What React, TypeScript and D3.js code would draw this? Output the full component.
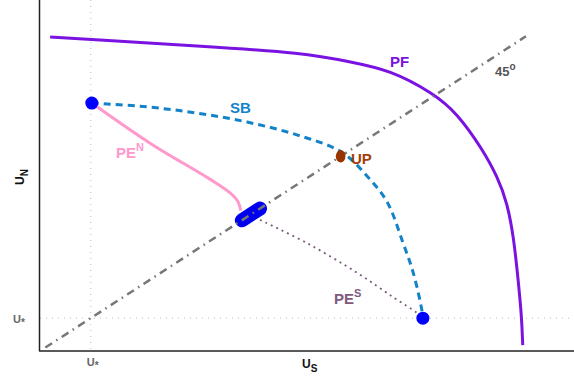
import React from 'react';
import * as d3 from 'd3';

const W = 574;
const H = 381;

// reference utility level U* (same on both axes)
const uStar = 0.95;

// Pareto frontier
const pfX = [0.19, 1.12, 3.0, 4.96, 5.81, 6.55, 7.36, 7.81, 8.28, 8.57, 8.75, 8.87, 8.96, 9.02, 9.04];
const pfY = [9.08, 8.99, 8.82, 8.62, 8.36, 8.13, 7.46, 6.88, 5.85, 5.03, 4.28, 3.3, 1.97, 0.98, 0.17];

// second-best frontier
const sbX = [0.97, 2.0, 2.94, 3.88, 4.81, 5.65, 6.14, 6.5, 6.8, 6.99, 7.15, 7.17];
const sbY = [7.17, 7.06, 6.88, 6.62, 6.25, 5.75, 5.03, 4.31, 3.12, 2.26, 1.19, 0.95];

// political equilibrium, North
const peNX = [0.97, 2.06, 3.18, 3.56, 3.71, 3.76];
const peNY = [7.17, 6.01, 4.97, 4.57, 4.31, 4.06];

// political equilibrium, South
const peSX = [4.12, 5.0, 5.94, 6.61, 7.06, 7.17];
const peSY = [3.79, 3.12, 2.26, 1.56, 1.1, 0.95];

// 45 degree line ends, cluster on the diagonal, utilitarian point
const diag = [0.1, 9.1];
const cluster = [3.78, 4.12];
const upPoint = 5.63;
const endPoints: [number, number][] = [[0.97, 7.17], [7.17, 0.95]];

const font = '"Liberation Sans", Arial, Helvetica, sans-serif';

export default function App() {
  const x = d3.scaleLinear().domain([0, 10]).range([40, 574]);
  const y = d3.scaleLinear().domain([0, 10.15]).range([351, 0]);

  const line = d3.line<[number, number]>()
    .x(d => x(d[0]))
    .y(d => y(d[1]));
  const curve = d3.line<[number, number]>()
    .x(d => x(d[0]))
    .y(d => y(d[1]))
    .curve(d3.curveCatmullRom.alpha(0.5));
  const smooth = d3.line<[number, number]>()
    .x(d => x(d[0]))
    .y(d => y(d[1]))
    .curve(d3.curveBasis);

  const zip = (a: number[], b: number[]) => a.map((v, i) => [v, b[i]] as [number, number]);

  return (
    <svg width={W} height={H} style={{ position: 'absolute', left: 0, top: 0, display: 'block' }}
      fontFamily={font}>
      <rect width={W} height={H} fill="#fff" />

      {/* U* guide lines */}
      <line x1={x(uStar)} x2={x(uStar)} y1={0} y2={y(0)} stroke="#bbb" strokeWidth={1} strokeDasharray="1,5" />
      <line x1={x(0)} x2={W} y1={y(uStar)} y2={y(uStar)} stroke="#bbb" strokeWidth={1} strokeDasharray="1,5" />

      {/* axes */}
      <line x1={x(0) - 0.5} x2={x(0) - 0.5} y1={0} y2={y(0)} stroke="#222" strokeWidth={1.5} />
      <line x1={x(0) - 1} x2={W} y1={y(0)} y2={y(0)} stroke="#222" strokeWidth={1.5} />

      <path d={smooth(zip(pfX, pfY)) || ''} fill="none" stroke="#7a12e2" strokeWidth={3} />
      <path d={curve(zip(sbX, sbY)) || ''} fill="none" stroke="#1283c9" strokeWidth={3} strokeDasharray="7,5" />
      <path d={curve(zip(peNX, peNY)) || ''} fill="none" stroke="#ff99cc" strokeWidth={3} />
      <path d={curve(zip(peSX, peSY)) || ''} fill="none" stroke="#7e5a7e" strokeWidth={1.8} strokeDasharray="2,4" />

      <path d={line([[cluster[0], cluster[0]], [cluster[1], cluster[1]]]) || ''} fill="none"
        stroke="#0000ee" strokeWidth={14} strokeLinecap="round" />

      <path d={line([[diag[0], diag[0]], [diag[1], diag[1]]]) || ''} fill="none"
        stroke="#777" strokeWidth={2.5} strokeDasharray="8,5,1.5,5" />

      {endPoints.map((p, i) => (
        <circle key={i} cx={x(p[0])} cy={y(p[1])} r={6.5} fill="#0000ff" />
      ))}
      <ellipse cx={x(upPoint)} cy={y(upPoint)} rx={4.8} ry={6.2} fill="#993300" />

      {/* labels */}
      <text x={390} y={67} fontSize={15} fontWeight="bold" fill="#7a12e2">PF</text>
      <text x={495} y={76} fontSize={13} fontWeight="bold" fill="#555">45<tspan dy={-6} fontSize={10}>o</tspan></text>
      <text x={230} y={113} fontSize={15} fontWeight="bold" fill="#1283c9">SB</text>
      <text x={351} y={164} fontSize={15} fontWeight="bold" fill="#a23f0a">UP</text>
      <text x={116} y={158} fontSize={15} fontWeight="bold" fill="#ff99cc">PE<tspan dy={-7} fontSize={11}>N</tspan></text>
      <text x={334} y={304} fontSize={15} fontWeight="bold" fill="#7e5a7e">PE<tspan dy={-7} fontSize={11}>S</tspan></text>

      <text x={302} y={368} fontSize={12} fontWeight="bold" fill="#111">U<tspan dy={4} fontSize={10}>S</tspan></text>
      <text transform="translate(24,185) rotate(-90)" fontSize={12} fontWeight="bold" fill="#111">U<tspan dy={4} fontSize={10}>N</tspan></text>

      <text x={x(uStar) - 4} y={366} fontSize={11} fontWeight="bold" fill="#666">U<tspan dy={3} fontSize={10}>*</tspan></text>
      <text x={13} y={y(uStar) + 5} fontSize={11} fontWeight="bold" fill="#666">U<tspan dy={3} fontSize={10}>*</tspan></text>
    </svg>
  );
}
